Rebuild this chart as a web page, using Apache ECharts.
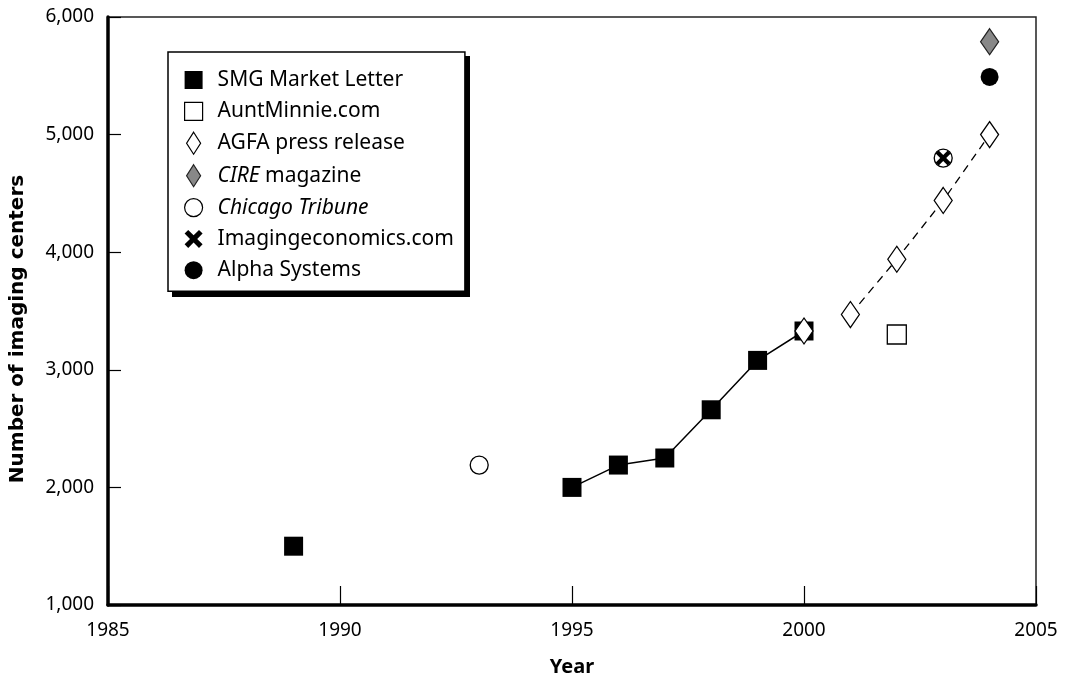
<!DOCTYPE html>
<html>
<head>
<meta charset="utf-8">
<script src="https://cdn.jsdelivr.net/npm/echarts@6/dist/echarts.min.js"></script>
<style>
  html, body { margin: 0; padding: 0; background: #fff; }
  #chart { width: 1066px; height: 676px; }
</style>
</head>
<body>
<div id="chart"></div>
<script>
// values
const smgYears = [1989, 1995, 1996, 1997, 1998, 1999, 2000];
const smgValues = [1500, 2000, 2190, 2250, 2660, 3080, 3330];
const auntYears = [2002];
const auntValues = [3300];
const agfaYears = [2000, 2001, 2002, 2003, 2004];
const agfaValues = [3330, 3470, 3940, 4440, 5000];
const cireYears = [2004];
const cireValues = [5790];
const tribYears = [1993, 2003];
const tribValues = [2190, 4800];
const imgecoYears = [2003];
const imgecoValues = [4800];
const alphaYears = [2004];
const alphaValues = [5490];

const xTicks = [1985, 1990, 1995, 2000, 2005];
const yTicks = [1000, 2000, 3000, 4000, 5000, 6000];

const FONT = 'Noto Sans';
const SQUARE = 'path://M0,0H10V10H0Z';
const DIAMOND = 'path://M7,0L14,11L7,22L0,11Z';
const CROSS = 'path://M0,2L2,0L5,3L8,0L10,2L7,5L10,8L8,10L5,7L2,10L0,8L3,5Z';

function pairs(xs, ys) {
    return xs.map(function (x, i) { return [x, ys[i]]; });
}

var smgPts = pairs(smgYears, smgValues);
var agfaPts = pairs(agfaYears, agfaValues);

var myChart = echarts.init(document.getElementById('chart'));

myChart.setOption({
    animation: false,
    backgroundColor: '#fff',
    textStyle: { fontFamily: FONT, color: '#000' },
    grid: {
        left: 108, right: 30, top: 17, bottom: 71,
        outerBoundsMode: 'none', containLabel: false,
        show: true, borderColor: '#222', borderWidth: 1.5
    },
    // drop shadow behind the legend box
    graphic: [{
        type: 'rect', left: 172, top: 56, z: 1,
        shape: { width: 298, height: 241 },
        style: { fill: '#000' }
    }],
    legend: {
        orient: 'vertical',
        left: 168, top: 52, z: 10,
        padding: [17, 11, 10, 16],
        itemWidth: 18, itemHeight: 22, itemGap: 9.3,
        backgroundColor: '#fff',
        borderColor: '#000', borderWidth: 1.5, borderRadius: 0,
        selectedMode: false,
        textStyle: {
            fontFamily: FONT, fontSize: 21, color: '#000', lineHeight: 22, padding: [0, 0, 0, 10],
            rich: { i: { fontFamily: FONT, fontSize: 21, lineHeight: 22, fontStyle: 'italic', color: '#000' } }
        },
        formatter: function (name) {
            if (name === 'CIRE magazine') return '{i|CIRE} magazine';
            if (name === 'Chicago Tribune') return '{i|Chicago Tribune}';
            return name;
        },
        data: [
            { name: 'SMG Market Letter', icon: SQUARE, itemStyle: { color: '#000', borderColor: '#000', borderWidth: 0, opacity: 1 } },
            { name: 'AuntMinnie.com', icon: SQUARE, itemStyle: { color: '#fff', borderColor: '#000', borderWidth: 1.2, opacity: 1 } },
            { name: 'AGFA press release', icon: DIAMOND, itemStyle: { color: '#fff', borderColor: '#000', borderWidth: 1.2, opacity: 1 } },
            { name: 'CIRE magazine', icon: DIAMOND, itemStyle: { color: '#888', borderColor: '#222', borderWidth: 1.2, opacity: 1 } },
            { name: 'Chicago Tribune', icon: 'circle', itemStyle: { color: '#fff', borderColor: '#000', borderWidth: 1.2, opacity: 1 } },
            { name: 'Imagingeconomics.com', icon: CROSS, itemStyle: { color: '#000', borderColor: '#000', borderWidth: 0, opacity: 1 } },
            { name: 'Alpha Systems', icon: 'circle', itemStyle: { color: '#000', borderColor: '#000', borderWidth: 0, opacity: 1 } }
        ]
    },
    xAxis: {
        type: 'value',
        min: xTicks[0], max: xTicks[xTicks.length - 1], interval: 5,
        name: 'Year', nameLocation: 'middle', nameGap: 52,
        nameTextStyle: { fontFamily: FONT, fontSize: 20, fontWeight: 'bold', color: '#000' },
        axisLine: { show: true, lineStyle: { color: '#000', width: 3.5 } },
        axisTick: { show: true, inside: true, length: 19, lineStyle: { color: '#000', width: 1.2 } },
        axisLabel: {
            fontFamily: FONT, fontSize: 19, color: '#000', margin: 16,
            formatter: function (v) { return String(v); }
        },
        splitLine: { show: false }
    },
    yAxis: {
        type: 'value',
        min: yTicks[0], max: yTicks[yTicks.length - 1], interval: 1000,
        name: 'Number of imaging centers', nameLocation: 'middle', nameGap: 80,
        nameTextStyle: { fontFamily: 'DejaVu Sans', fontSize: 20, fontWeight: 'bold', color: '#000', padding: [0, 36, 0, 0] },
        axisLine: { show: true, lineStyle: { color: '#000', width: 3.5 } },
        axisTick: { show: true, inside: true, length: 13, lineStyle: { color: '#000', width: 1.2 } },
        axisLabel: {
            fontFamily: FONT, fontSize: 19, color: '#000', margin: 14,
            formatter: function (v) { return v.toLocaleString('en-US'); }
        },
        splitLine: { show: false }
    },
    series: [
        {
            name: 'SMG Market Letter', type: 'scatter', z: 3,
            symbol: 'rect', symbolSize: 19,
            itemStyle: { color: '#000', opacity: 1 },
            data: smgPts.slice(0, 1)
        },
        {
            name: 'SMG Market Letter', type: 'line', z: 3,
            symbol: 'rect', symbolSize: 19, showAllSymbol: true,
            itemStyle: { color: '#000', opacity: 1 },
            lineStyle: { color: '#000', width: 1.5 },
            data: smgPts.slice(1)
        },
        {
            name: 'AuntMinnie.com', type: 'scatter', z: 4,
            symbol: 'rect', symbolSize: 19,
            itemStyle: { color: '#fff', borderColor: '#000', borderWidth: 1.3, opacity: 1 },
            data: pairs(auntYears, auntValues)
        },
        {
            name: 'CIRE magazine', type: 'scatter', z: 4,
            symbol: 'diamond', symbolSize: [18, 26],
            itemStyle: { color: '#888', borderColor: '#222', borderWidth: 1.3, opacity: 1 },
            data: pairs(cireYears, cireValues)
        },
        {
            name: 'Alpha Systems', type: 'scatter', z: 4,
            symbol: 'circle', symbolSize: 18,
            itemStyle: { color: '#000', opacity: 1 },
            data: pairs(alphaYears, alphaValues)
        },
        {
            name: 'Imagingeconomics.com', type: 'scatter', z: 4,
            symbol: CROSS, symbolSize: 15,
            itemStyle: { color: '#000', opacity: 1 },
            data: pairs(imgecoYears, imgecoValues)
        },
        {
            name: 'Chicago Tribune', type: 'scatter', z: 5,
            symbol: 'circle', symbolSize: 18,
            itemStyle: { color: 'rgba(255,255,255,0)', borderColor: '#000', borderWidth: 1.3, opacity: 1 },
            data: pairs(tribYears, tribValues)
        },
        {
            name: 'AGFA press release', type: 'line', z: 5,
            symbol: 'diamond', symbolSize: [18, 26], showAllSymbol: true,
            itemStyle: { color: '#fff', borderColor: '#000', borderWidth: 1.3, opacity: 1 },
            lineStyle: { color: '#000', width: 1.3, type: [8, 6] },
            data: agfaPts.slice(1)
        },
        {
            name: 'AGFA press release', type: 'scatter', z: 6,
            symbol: 'diamond', symbolSize: [18, 26],
            itemStyle: { color: '#fff', borderColor: '#000', borderWidth: 1.3, opacity: 1 },
            data: agfaPts.slice(0, 1)
        }
    ]
});
</script>
</body>
</html>
